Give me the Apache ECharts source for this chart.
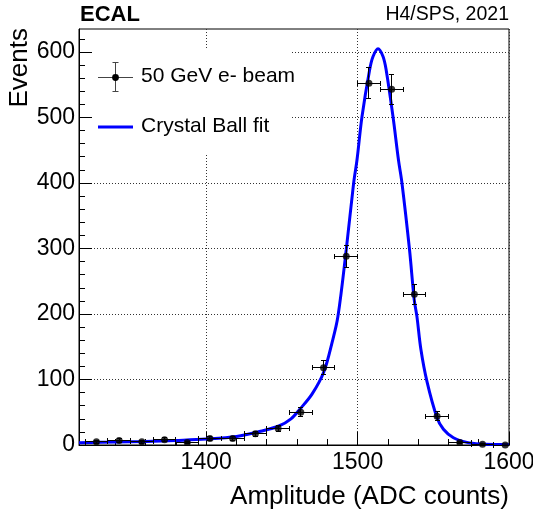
<!DOCTYPE html>
<html>
<head>
<meta charset="utf-8">
<script src="https://cdn.jsdelivr.net/npm/echarts@6/dist/echarts.min.js"></script>
<style>
  html, body { margin: 0; padding: 0; background: #fff; }
  #chart { width: 533px; height: 518px; }
</style>
</head>
<body>
<div id="chart"></div>
<script>
// Histogram: amplitude bin centres (ADC counts) and event counts per bin
const binCenters = [1327.5, 1342.5, 1357.5, 1372.5, 1387.5, 1402.5, 1417.5, 1432.5, 1447.5, 1462.5,
                    1477.5, 1492.5, 1507.5, 1522.5, 1537.5, 1552.5, 1567.5, 1582.5, 1597.5];
const events     = [5, 7, 5, 8, 4, 10, 10, 17, 25, 50,
                    118, 288, 552, 543, 230, 44, 4, 1, 0];
const binHalfWidth = 7.5;

// Crystal Ball fit curve, sampled along the amplitude axis
const fitX = [1316, 1340, 1360, 1380, 1400, 1420, 1436, 1448, 1456, 1462, 1470, 1477.6, 1483.1, 1487,
              1492.5, 1497.4, 1499.6, 1502.9, 1507.9, 1510.2, 1513.5, 1516.8, 1518.9, 1523.4, 1527,
              1529.3, 1534.3, 1537.4, 1539.2, 1541.8, 1545.8, 1552.4, 1556.7, 1563.3, 1572.2, 1582, 1594, 1600];
const fitY = [3.5, 4.5, 5.5, 7, 9, 13, 21, 29, 40, 55, 78, 111, 156, 196,
              298, 400, 435, 501, 572, 593, 605, 593, 572, 501, 435,
              400, 298, 222, 196, 146, 97, 42, 24, 11, 4, 1.5, 0.7, 0.5];

// Axis ticks
const xMajorTicks = [1400, 1500, 1600];
const xMinorTicks = [1320, 1340, 1360, 1380, 1400, 1420, 1440, 1460, 1480, 1500, 1520, 1540, 1560, 1580, 1600];
const yMajorTicks = [0, 100, 200, 300, 400, 500, 600];
const yMinorTicks = [0, 20, 40, 60, 80, 100, 120, 140, 160, 180, 200, 220, 240, 260, 280, 300, 320, 340,
                     360, 380, 400, 420, 440, 460, 480, 500, 520, 540, 560, 580, 600, 620];

const FONT = '"Liberation Sans", Arial, Helvetica, sans-serif';

const histData = binCenters.map((x, i) => [x, events[i], binHalfWidth, Math.sqrt(events[i])]);
const fitData = fitX.map((x, i) => [x, fitY[i]]);

const chart = echarts.init(document.getElementById('chart'), null, { renderer: 'canvas' });

const dotted = { type: [1, 2], color: '#333', width: 1 };
const plain = v => String(v);
const crisp = v => Math.round(v - 0.5) + 0.5;

chart.setOption({
  animation: false,
  backgroundColor: '#fff',
  grid: {
    left: 79, right: 24, top: 29, bottom: 73,
    outerBoundsMode: 'none', containLabel: false,
    show: true, borderColor: '#000', borderWidth: 1, backgroundColor: 'transparent'
  },
  xAxis: [
    {
      type: 'value', min: 1316, max: 1600, position: 'bottom',
      axisLine: { show: true, onZero: false, lineStyle: { color: '#000', width: 1 } },
      axisTick: { show: true, inside: true, length: 13, customValues: xMajorTicks, lineStyle: { color: '#000' } },
      axisLabel: { customValues: xMajorTicks, formatter: plain, color: '#000', fontSize: 23, fontFamily: FONT, margin: 6 },
      splitLine: { show: true, lineStyle: dotted }
    },
    {
      type: 'value', min: 1316, max: 1600, position: 'bottom',
      axisLine: { show: false },
      axisTick: { show: true, inside: true, length: 6, customValues: xMinorTicks, lineStyle: { color: '#000' } },
      axisLabel: { show: false },
      splitLine: { show: false }
    }
  ],
  yAxis: [
    {
      type: 'value', min: 0, max: 635, position: 'left',
      axisLine: { show: true, onZero: false, lineStyle: { color: '#000', width: 1 } },
      axisTick: { show: true, inside: true, length: 13, customValues: yMajorTicks, lineStyle: { color: '#000' } },
      axisLabel: { customValues: yMajorTicks, formatter: plain, color: '#000', fontSize: 23, fontFamily: FONT, margin: 4 },
      splitLine: { show: true, lineStyle: dotted }
    },
    {
      type: 'value', min: 0, max: 635, position: 'left',
      axisLine: { show: false },
      axisTick: { show: true, inside: true, length: 6, customValues: yMinorTicks, lineStyle: { color: '#000' } },
      axisLabel: { show: false },
      splitLine: { show: false }
    }
  ],
  graphic: [
    // legend panel (white box hides the grid behind it)
    { type: 'rect', z: 1, left: 93, top: 50, shape: { width: 198, height: 103 }, style: { fill: '#fff' } },
    { type: 'line', z: 2, shape: { x1: 98, y1: 77.5, x2: 133, y2: 77.5 }, style: { stroke: '#444', lineWidth: 1 } },
    { type: 'line', z: 2, shape: { x1: 115.5, y1: 62, x2: 115.5, y2: 92 }, style: { stroke: '#444', lineWidth: 1 } },
    { type: 'line', z: 2, shape: { x1: 112.5, y1: 62.5, x2: 118.5, y2: 62.5 }, style: { stroke: '#444', lineWidth: 1 } },
    { type: 'line', z: 2, shape: { x1: 112.5, y1: 91.5, x2: 118.5, y2: 91.5 }, style: { stroke: '#444', lineWidth: 1 } },
    { type: 'circle', z: 2, shape: { cx: 115.5, cy: 77.5, r: 3.4 }, style: { fill: '#000' } },
    { type: 'text', z: 2, left: 141, top: 66, style: { text: '50 GeV e- beam', font: '21px ' + FONT, fill: '#000' } },
    { type: 'line', z: 2, shape: { x1: 98, y1: 127, x2: 133, y2: 127 }, style: { stroke: '#0000ff', lineWidth: 3 } },
    { type: 'text', z: 2, left: 141, top: 116, style: { text: 'Crystal Ball fit', font: '21px ' + FONT, fill: '#000' } },
    // header texts
    { type: 'text', left: 80, top: 4, style: { text: 'ECAL', font: 'bold 22px ' + FONT, fill: '#000' } },
    { type: 'text', right: 24, top: 5, style: { text: 'H4/SPS, 2021', font: '19.5px ' + FONT, fill: '#000', textAlign: 'right' } },
    // axis titles
    { type: 'text', x: 33, y: 28, rotation: Math.PI / 2,
      style: { text: 'Events', font: '26px ' + FONT, fill: '#000', textAlign: 'right', textVerticalAlign: 'bottom' } },
    { type: 'text', x: 509, y: 510, style: { text: 'Amplitude (ADC counts)', font: '26px ' + FONT, fill: '#000', textAlign: 'right', textVerticalAlign: 'bottom' } }
  ],
  series: [
    {
      name: 'Crystal Ball fit', type: 'line', data: fitData, smooth: 0.35,
      showSymbol: false, clip: true, z: 3,
      lineStyle: { color: '#0000ff', width: 3 }
    },
    {
      name: 'errors', type: 'custom', data: histData, z: 4,
      renderItem: function (params, api) {
        const x = api.value(0), y = api.value(1), ex = api.value(2), ey = api.value(3);
        const cs = params.coordSys;
        const xMinPx = cs.x, xMaxPx = cs.x + cs.width;
        const c = api.coord([x, y]);
        const cx = crisp(c[0]), cy = crisp(c[1]);
        const lRaw = api.coord([x - ex, y])[0], rRaw = api.coord([x + ex, y])[0];
        const l = crisp(Math.max(lRaw, xMinPx)), r = crisp(Math.min(rRaw, xMaxPx));
        const top = crisp(api.coord([x, y + ey])[1]), bot = crisp(api.coord([x, y - ey])[1]);
        const st = { stroke: '#000', lineWidth: 1 };
        const cap = 2.5;
        const kids = [
          { type: 'line', shape: { x1: l, y1: cy, x2: r, y2: cy }, style: st }
        ];
        if (lRaw >= xMinPx) kids.push({ type: 'line', shape: { x1: l, y1: cy - cap, x2: l, y2: cy + cap }, style: st });
        if (rRaw <= xMaxPx) kids.push({ type: 'line', shape: { x1: r, y1: cy - cap, x2: r, y2: cy + cap }, style: st });
        if (ey > 0) {
          kids.push({ type: 'line', shape: { x1: cx, y1: top, x2: cx, y2: bot }, style: st });
          kids.push({ type: 'line', shape: { x1: cx - cap, y1: top, x2: cx + cap, y2: top }, style: st });
          kids.push({ type: 'line', shape: { x1: cx - cap, y1: bot, x2: cx + cap, y2: bot }, style: st });
        }
        return { type: 'group', children: kids };
      }
    },
    {
      name: '50 GeV e- beam', type: 'scatter', data: histData.map(d => [d[0], d[1]]),
      symbol: 'circle', symbolSize: 7, z: 5, clip: true,
      itemStyle: { color: '#000' }
    }
  ]
});
</script>
</body>
</html>
